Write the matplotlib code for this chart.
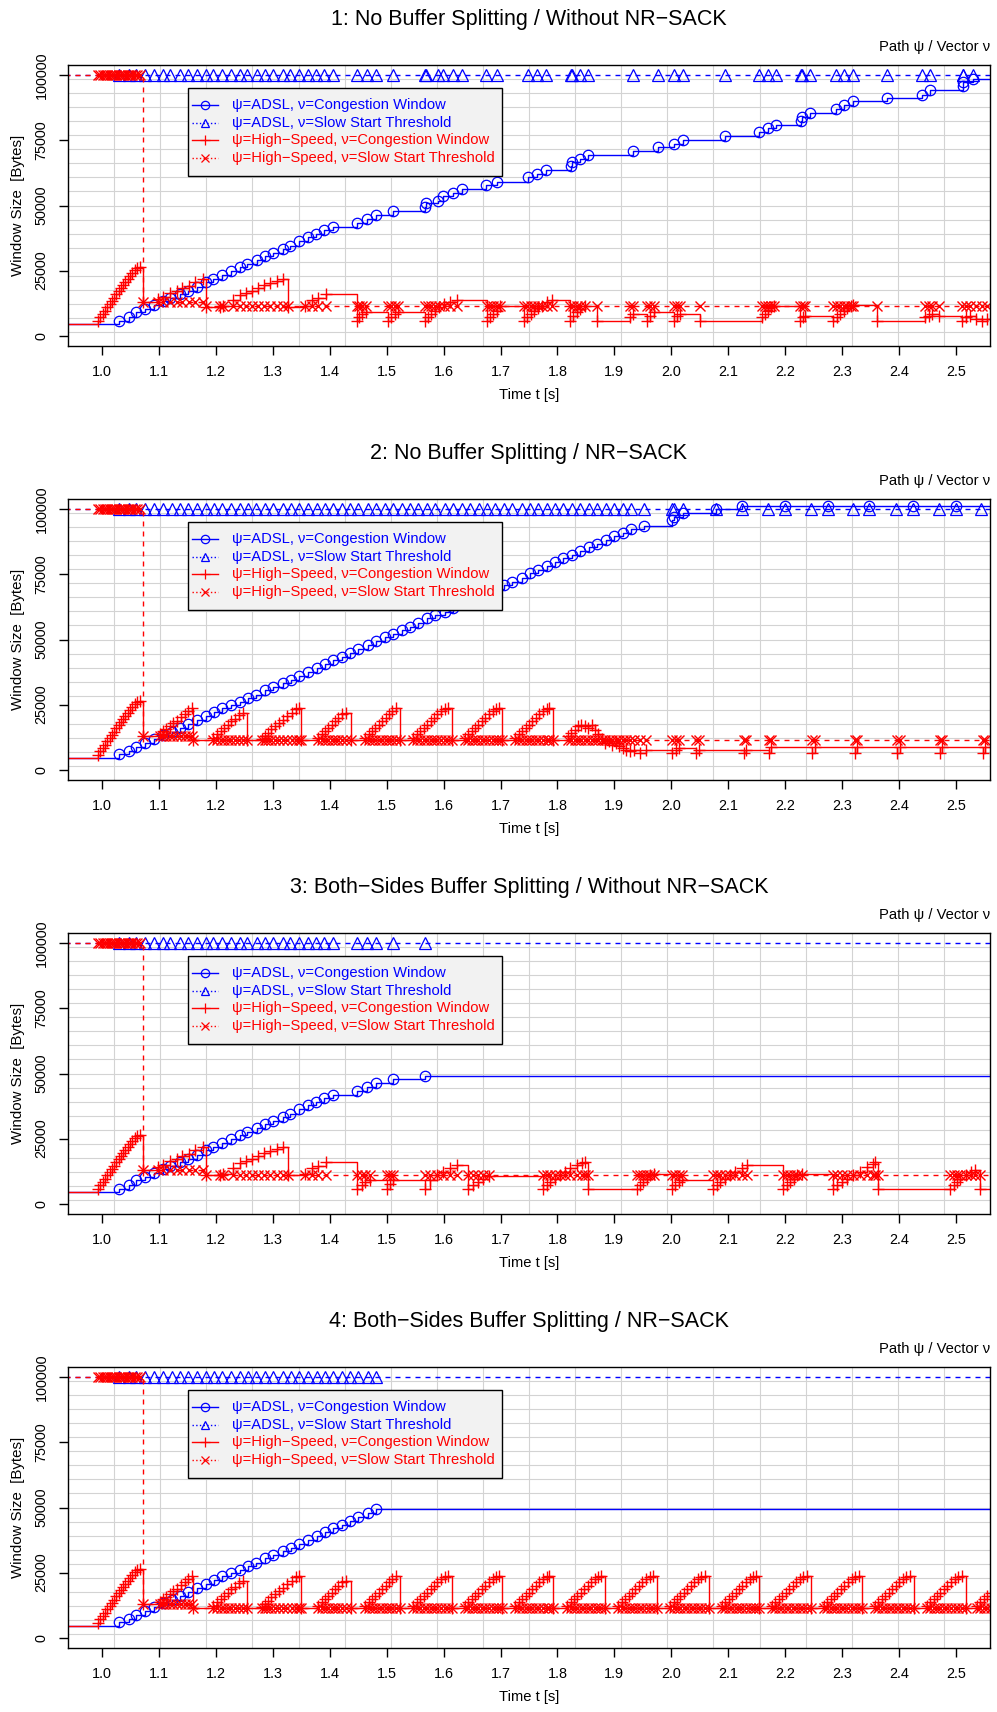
import numpy as np
import matplotlib
matplotlib.use("Agg")
import matplotlib.pyplot as plt
from matplotlib.lines import Line2D
from matplotlib.patches import Rectangle

plt.rcParams['font.family'] = ['Liberation Sans', 'DejaVu Sans']

BLUE = '#0000ff'
RED = '#ff0000'

titles = ["1: No Buffer Splitting / Without NR\u2212SACK",
          "2: No Buffer Splitting / NR\u2212SACK",
          "3: Both\u2212Sides Buffer Splitting / Without NR\u2212SACK",
          "4: Both\u2212Sides Buffer Splitting / NR\u2212SACK"]

legend_labels = ["\u03c8=ADSL, \u03bd=Congestion Window",
                 "\u03c8=ADSL, \u03bd=Slow Start Threshold",
                 "\u03c8=High\u2212Speed, \u03bd=Congestion Window",
                 "\u03c8=High\u2212Speed, \u03bd=Slow Start Threshold"]

x_ticks = [1.0, 1.1, 1.2, 1.3, 1.4, 1.5, 1.6, 1.7, 1.8, 1.9, 2.0, 2.1, 2.2, 2.3, 2.4, 2.5]
y_ticks = [0, 25000, 50000, 75000, 100000]

# ---- ADSL congestion window (time [s], bytes) ----
# panels 1 and 3 start the same way
adsl_13_t = [0.90, 1.030, 1.047, 1.060, 1.075, 1.091, 1.107, 1.119, 1.136, 1.151, 1.166,
             1.183, 1.195, 1.210, 1.227, 1.242, 1.255, 1.272, 1.286, 1.300, 1.317,
             1.330, 1.346, 1.362, 1.376, 1.390, 1.406, 1.447, 1.466, 1.481, 1.511]
adsl_13_v = [4500, 5800, 7300, 9000, 10300, 11900, 13200, 14400, 15800, 17300, 18800,
             20500, 21800, 23100, 24700, 26300, 27600, 29100, 30400, 31700, 33300,
             34600, 36300, 37800, 39100, 40400, 41700, 43200, 44900, 46200, 47700]
adsl_1_tail_t = [1.567, 1.569, 1.590, 1.599, 1.617, 1.632, 1.675, 1.693, 1.749, 1.764,
                 1.780, 1.823, 1.825, 1.840, 1.854, 1.932, 1.976, 2.004, 2.020, 2.095,
                 2.155, 2.170, 2.184, 2.228, 2.229, 2.244, 2.289, 2.304, 2.320, 2.379,
                 2.440, 2.455, 2.512, 2.513, 2.530, 2.70]
adsl_1_tail_v = [49400, 50900, 51900, 53500, 54900, 56200, 57900, 59200, 60900, 62200,
                 63500, 65100, 66700, 67900, 69500, 70900, 72400, 73700, 75300, 76700,
                 78200, 79700, 81000, 82400, 84000, 85500, 86900, 88500, 90000, 91300,
                 92600, 94200, 95800, 97400, 98700, 98700]
adsl_3_tail_t = [1.567, 2.70]
adsl_3_tail_v = [49000, 49000]

# panels 2 and 4 start the same way
adsl_24_t = [0.90, 1.030, 1.047, 1.060, 1.075, 1.091, 1.107, 1.122, 1.136, 1.151, 1.166,
             1.182, 1.197, 1.211, 1.227, 1.242, 1.257, 1.271, 1.286, 1.300, 1.317,
             1.331, 1.346, 1.362, 1.377, 1.391, 1.406, 1.421, 1.435, 1.450, 1.467, 1.482]
adsl_24_v = [4500, 5900, 7200, 8700, 10300, 11900, 13200, 14500, 16000, 17700, 19200,
             20500, 22200, 23500, 24700, 26000, 27600, 28800, 30500, 31800, 33300,
             34600, 35900, 37600, 39200, 40500, 42100, 43300, 44900, 46300, 47800, 49400]
adsl_2_tail_t = [1.497, 1.511, 1.526, 1.541, 1.555, 1.570, 1.585, 1.602,
                 1.617, 1.632, 1.647, 1.662, 1.676, 1.691,
                 1.706, 1.720, 1.738, 1.751, 1.765, 1.782, 1.795, 1.810, 1.825, 1.840,
                 1.856, 1.870, 1.885, 1.900, 1.916, 1.930, 1.952,
                 2.002, 2.004, 2.020, 2.078, 2.125, 2.200, 2.275, 2.348, 2.424, 2.500, 2.70]
adsl_2_tail_v = [50800, 52100, 53600, 54900, 56400, 58100, 59400, 60600,
                 62000, 63500, 65000, 66500, 68000, 69500,
                 70900, 72200, 73700, 75400, 76700, 78200, 79700, 81200, 82400, 84000,
                 85400, 86700, 88200, 89700, 91000, 92600, 93800,
                 95900, 96900, 98500, 100000, 101200, 101200, 101200, 101200, 101200,
                 101200, 101200]
adsl_4_tail_t = [2.70]
adsl_4_tail_v = [49400]
# extra ADSL slow start threshold samples (panel 2)
adsl_2_thr_extra_t = [2.170, 2.246, 2.319, 2.395, 2.470, 2.545]

# ---- High-Speed congestion window (time [s], bytes) ----
hs_start_t = [0.90, 0.993, 0.997, 1.001, 1.005, 1.009, 1.013, 1.017, 1.021, 1.025, 1.029,
              1.033, 1.037, 1.041, 1.045, 1.049, 1.053, 1.057, 1.061, 1.066, 1.071]
hs_start_v = [4500, 5800, 7000, 8300, 9500, 10800, 12000, 13300, 14500, 15800, 17000,
              18200, 19400, 20600, 21800, 23000, 24100, 25100, 26000, 26300, 13000]

hs_13_t = [1.099, 1.107, 1.119, 1.131, 1.140, 1.152, 1.163, 1.178, 1.182,
           1.207, 1.213, 1.230, 1.243, 1.253, 1.263, 1.274, 1.284, 1.295, 1.307, 1.317, 1.327,
           1.357, 1.368, 1.380, 1.393, 1.447]
hs_13_v = [14100, 15000, 16300, 17300, 18200, 19200, 20500, 21800, 11000,
           11000, 11500, 13800, 15700, 16400, 17000, 18300, 19500, 20200, 20900, 21700, 11000,
           11500, 13500, 14500, 16000, 5800]

hs_1_tail_t = [1.452, 1.457, 1.463,
               1.503, 1.508, 1.514, 1.519,
               1.567, 1.572, 1.578, 1.585, 1.592, 1.600, 1.612, 1.624,
               1.676, 1.681, 1.687, 1.693, 1.699,
               1.741, 1.747, 1.753, 1.759, 1.765, 1.773, 1.782, 1.790,
               1.822, 1.828, 1.834, 1.840, 1.849,
               1.869,
               1.928, 1.933,
               1.957, 1.963, 1.969,
               2.004, 2.010, 2.016,
               2.051,
               2.159, 2.165, 2.170, 2.176, 2.180,
               2.226, 2.231, 2.235,
               2.285, 2.291, 2.297, 2.303, 2.309, 2.315, 2.320,
               2.361,
               2.446, 2.452, 2.458, 2.470,
               2.511, 2.517, 2.525, 2.535, 2.546, 2.555,
               2.70]
hs_1_tail_v = [7100, 8300, 9000,
               5800, 7100, 8300, 9000,
               5800, 7100, 8300, 9600, 10900, 12200, 12800, 13500,
               5800, 7100, 8300, 9600, 11200,
               5800, 7100, 8300, 9600, 10600, 11500, 12800, 13500,
               5800, 7700, 9000, 10300, 11200,
               5800,
               7100, 8300,
               5800, 7700, 9000,
               5800, 7700, 8300,
               5800,
               7100, 8300, 9600, 10900, 11500,
               5800, 7100, 7700,
               5800, 7100, 8300, 9600, 10600, 11500, 11800,
               5800,
               7100, 7700, 8300, 7700,
               5800, 7100, 7700, 6500, 5800, 6500,
               6500]

hs_3_tail_t = [1.456, 1.462, 1.470,
               1.500, 1.506, 1.511,
               1.567, 1.576, 1.588, 1.599, 1.611, 1.623,
               1.643, 1.652, 1.661, 1.670, 1.680,
               1.775, 1.781, 1.787, 1.796, 1.805, 1.814, 1.822, 1.834, 1.843, 1.849,
               1.854,
               1.939, 1.945, 1.951, 1.957, 1.963, 1.969,
               2.001, 2.007, 2.013, 2.018,
               2.074, 2.080, 2.086, 2.095, 2.103, 2.112, 2.124, 2.133,
               2.197, 2.203, 2.209, 2.215, 2.221, 2.229,
               2.285, 2.291, 2.300, 2.308, 2.320, 2.332, 2.344, 2.355, 2.358,
               2.364,
               2.490, 2.496, 2.502, 2.508, 2.517, 2.526, 2.534,
               2.543,
               2.70]
hs_3_tail_v = [7100, 8300, 9000,
               5800, 7700, 9000,
               5800, 9000, 10900, 12200, 13500, 14700,
               5800, 7100, 8300, 9600, 10500,
               5800, 7100, 8300, 9600, 10900, 12200, 13500, 14700, 15600, 16000,
               5800,
               5800, 7100, 8300, 9600, 10900, 11500,
               5800, 7100, 8300, 9000,
               5800, 7100, 8300, 9600, 10900, 12200, 13500, 14700,
               5800, 7100, 8300, 9600, 10900, 11500,
               5800, 7100, 8300, 9600, 10900, 12200, 14100, 15400, 16000,
               5800,
               5800, 7100, 8300, 9600, 10900, 12200, 12800,
               5800,
               5800]

# panels 2 and 4: identical saw teeth up to 1.793 s
hs_24_t = [1.101, 1.107, 1.113, 1.119, 1.125, 1.131, 1.139, 1.145, 1.151, 1.157, 1.160,
           1.195, 1.201, 1.208, 1.214, 1.221, 1.227, 1.233, 1.241, 1.247, 1.255,
           1.280, 1.286, 1.292, 1.297, 1.303, 1.311, 1.318, 1.325, 1.333, 1.341, 1.346, 1.350,
           1.380, 1.386, 1.391, 1.397, 1.403, 1.409, 1.415, 1.421, 1.429, 1.438,
           1.462, 1.468, 1.474, 1.480, 1.486, 1.492, 1.498, 1.504, 1.510, 1.517, 1.523,
           1.547, 1.553, 1.559, 1.565, 1.571, 1.577, 1.583, 1.589, 1.596, 1.603, 1.608, 1.614,
           1.637, 1.643, 1.649, 1.655, 1.661, 1.667, 1.673, 1.679, 1.686, 1.692, 1.697, 1.703,
           1.726, 1.732, 1.738, 1.744, 1.750, 1.756, 1.762, 1.768, 1.775, 1.781, 1.786, 1.793]
hs_24_v = [13800, 14700, 15600, 16700, 17900, 18800, 20100, 21400, 22700, 23700, 11500,
           12200, 13500, 14700, 16000, 17300, 18600, 19600, 20800, 21800, 11200,
           11800, 12800, 14100, 15600, 16700, 17900, 19200, 20500, 21800, 23100, 23700, 11200,
           12200, 13500, 14700, 16000, 17300, 18600, 19900, 21200, 21800, 11200,
           12200, 13500, 14700, 16000, 17300, 18600, 19900, 21200, 22400, 23500, 11200,
           12200, 13500, 14700, 16000, 17300, 18600, 19900, 21200, 22400, 23300, 23700, 11200,
           12200, 13500, 14700, 16000, 17300, 18600, 19900, 21200, 22400, 23300, 23700, 11200,
           12200, 13500, 14700, 16000, 17300, 18600, 19900, 21200, 22400, 23300, 23700, 11500]

hs_2_tail_t = [1.818, 1.824, 1.830, 1.836, 1.842, 1.848, 1.854, 1.860, 1.866, 1.872,
               1.878, 1.884, 1.890, 1.896, 1.903, 1.909, 1.915, 1.921, 1.927, 1.935,
               1.945, 1.955,
               2.002, 2.008, 2.014, 2.044, 2.048, 2.127, 2.131, 2.172, 2.176,
               2.248, 2.252, 2.322, 2.326, 2.397, 2.401, 2.472, 2.476, 2.547, 2.551, 2.70]
hs_2_tail_v = [12800, 14100, 15400, 16700, 17300, 16700, 15800, 17000, 15400, 13500,
               11800, 10300, 10900, 9600, 10300, 9000, 8300, 7700, 7100, 7700,
               6500, 7400,
               6200, 7700, 8300, 6200, 7400, 6200, 7400, 6200, 8700,
               6500, 8700, 6500, 8700, 6500, 8700, 6500, 8700, 6500, 8700, 8700]

hs_4_tail_t = [1.817, 1.823, 1.829, 1.835, 1.841, 1.847, 1.853, 1.859, 1.866, 1.872, 1.877, 1.884,
               1.907, 1.913, 1.919, 1.925, 1.931, 1.937, 1.943, 1.949, 1.956, 1.962, 1.968, 1.975,
               1.998, 2.004, 2.010, 2.016, 2.022, 2.028, 2.034, 2.040, 2.047, 2.053, 2.059, 2.066,
               2.089, 2.095, 2.101, 2.107, 2.113, 2.119, 2.125, 2.131, 2.138, 2.144, 2.149, 2.155,
               2.177, 2.183, 2.189, 2.195, 2.201, 2.207, 2.213, 2.219, 2.226, 2.232, 2.239, 2.246,
               2.268, 2.274, 2.280, 2.286, 2.292, 2.298, 2.304, 2.310, 2.317, 2.323, 2.329, 2.335,
               2.358, 2.364, 2.370, 2.376, 2.382, 2.388, 2.394, 2.400, 2.407, 2.413, 2.419, 2.426,
               2.449, 2.455, 2.461, 2.467, 2.473, 2.479, 2.485, 2.491, 2.498, 2.504, 2.510, 2.517,
               2.537, 2.543, 2.549, 2.555, 2.561, 2.70]
hs_4_tail_v = [12200, 13500, 14700, 16000, 17300, 18600, 19900, 21200, 22400, 23300, 23700, 11500,
               12200, 13500, 14700, 16000, 17300, 18600, 19900, 21200, 22400, 23300, 23700, 11500,
               12200, 13500, 14700, 16000, 17300, 18600, 19900, 21200, 22400, 23300, 23700, 11500,
               12200, 13500, 14700, 16000, 17300, 18600, 19900, 21200, 22400, 23300, 23700, 11500,
               12200, 13500, 14700, 16000, 17300, 18600, 19900, 21200, 22400, 23300, 23700, 11500,
               12200, 13500, 14700, 16000, 17300, 18600, 19900, 21200, 22400, 23300, 23700, 11500,
               12200, 13500, 14700, 16000, 17300, 18600, 19900, 21200, 22400, 23300, 23700, 11500,
               12200, 13500, 14700, 16000, 17300, 18600, 19900, 21200, 22400, 23300, 23700, 11500,
               12200, 13500, 14700, 16000, 17300, 17300]

# slow start thresholds: value changes (time [s], bytes), sampled at the cwnd events
adsl_thr_t = [0.90]
adsl_thr_v = [100000]
hs_thr_1_t, hs_thr_1_v = [0.90, 1.071, 1.182], [100000, 13000, 11200]
hs_thr_2_t, hs_thr_2_v = [0.90, 1.071, 1.160], [100000, 13000, 11500]
hs_thr_3_t, hs_thr_3_v = [0.90, 1.071, 1.182], [100000, 13000, 10900]
hs_thr_4_t, hs_thr_4_v = [0.90, 1.071, 1.160], [100000, 13000, 11500]

panels = [
    dict(adsl_t=adsl_13_t + adsl_1_tail_t, adsl_v=adsl_13_v + adsl_1_tail_v, thr_extra=[],
         hs_t=hs_start_t + hs_13_t + hs_1_tail_t, hs_v=hs_start_v + hs_13_v + hs_1_tail_v,
         hs_thr=(hs_thr_1_t, hs_thr_1_v)),
    dict(adsl_t=adsl_24_t + adsl_2_tail_t, adsl_v=adsl_24_v + adsl_2_tail_v,
         thr_extra=adsl_2_thr_extra_t,
         hs_t=hs_start_t + hs_24_t + hs_2_tail_t, hs_v=hs_start_v + hs_24_v + hs_2_tail_v,
         hs_thr=(hs_thr_2_t, hs_thr_2_v)),
    dict(adsl_t=adsl_13_t + adsl_3_tail_t, adsl_v=adsl_13_v + adsl_3_tail_v, thr_extra=[],
         hs_t=hs_start_t + hs_13_t + hs_3_tail_t, hs_v=hs_start_v + hs_13_v + hs_3_tail_v,
         hs_thr=(hs_thr_3_t, hs_thr_3_v)),
    dict(adsl_t=adsl_24_t + adsl_4_tail_t, adsl_v=adsl_24_v + adsl_4_tail_v, thr_extra=[],
         hs_t=hs_start_t + hs_24_t + hs_4_tail_t, hs_v=hs_start_v + hs_24_v + hs_4_tail_v,
         hs_thr=(hs_thr_4_t, hs_thr_4_v)),
]


def sample_steps(times, seg_t, seg_v):
    idx = np.searchsorted(seg_t, times, side='right') - 1
    return np.asarray(seg_v)[idx]


XLIM = (0.94, 2.56)
YLIM = (-4000, 104000)
W, H = 997, 1712

fig = plt.figure(figsize=(W / 100, H / 100), dpi=100)

for k, p in enumerate(panels):
    top = 65 + 434 * k
    bot = 346 + 434 * k
    ax = fig.add_axes([68 / W, 1 - bot / H, 922 / W, 281 / H])
    ax.set_xlim(*XLIM)
    ax.set_ylim(*YLIM)

    # grid, 20 x 20 cells
    for gx in np.linspace(XLIM[0], XLIM[1], 21)[1:-1]:
        ax.axvline(gx, color='#d3d3d3', lw=0.8, zorder=0)
    for gy in np.linspace(YLIM[0], YLIM[1], 21)[1:-1]:
        ax.axhline(gy, color='#d3d3d3', lw=0.8, zorder=0)

    # ADSL
    at = np.array(p['adsl_t'])
    av = np.array(p['adsl_v'])
    ax.step(at, av, where='post', color=BLUE, lw=1.0, zorder=3)
    ax.plot(at, av, ls='none', marker='o', ms=7.5, mfc='none', mec=BLUE, mew=0.9, zorder=3)
    tt = np.sort(np.concatenate([at, p['thr_extra']]))
    tv = sample_steps(tt, adsl_thr_t, adsl_thr_v)
    ax.step(tt, tv, where='post', color=BLUE, lw=1.0, dashes=(3.6, 3.6), zorder=3)
    ax.plot(tt, tv, ls='none', marker='^', ms=8, mfc='none', mec=BLUE, mew=0.9, zorder=3)

    # High-Speed
    ht = np.array(p['hs_t'])
    hv = np.array(p['hs_v'])
    ax.step(ht, hv, where='post', color=RED, lw=1.0, zorder=4)
    ax.plot(ht, hv, ls='none', marker='+', ms=9, mec=RED, mew=1.0, zorder=4)
    sv = sample_steps(ht, *p['hs_thr'])
    ax.step(ht, sv, where='post', color=RED, lw=1.0, dashes=(3.6, 3.6), zorder=4)
    ax.plot(ht, sv, ls='none', marker='x', ms=7, mec=RED, mew=1.0, zorder=4)

    # axes styling
    for s in ax.spines.values():
        s.set_color('black')
        s.set_linewidth(1.0)
        s.set_zorder(6)
    ax.set_xticks(x_ticks)
    ax.set_xticklabels([f"{x:.1f}" for x in x_ticks])
    ax.set_yticks(y_ticks)
    ax.set_yticklabels([str(y) for y in y_ticks], rotation=90, va='center')
    ax.tick_params(direction='out', length=6.5, width=1.0, colors='black',
                   labelsize=10.4, pad=7.5)

    ax.text(0.5, -49 / 281, "Time t [s]", transform=ax.transAxes,
            ha='center', va='center', fontsize=10.6)
    ax.text(-50 / 922, 0.5, "Window Size  [Bytes]", transform=ax.transAxes,
            rotation=90, ha='center', va='center', fontsize=10.8)
    ax.text(1.0, 1 + 18 / 281, "Path \u03c8 / Vector \u03bd", transform=ax.transAxes,
            ha='right', va='center', fontsize=10.6)
    fig.text(529 / W, 1 - (20 + 434 * k) / H, titles[k], ha='center', va='center',
             fontsize=15.5)

    # legend box drawn by hand
    lx0, lx1 = 0.1302, 0.4707
    ly0, ly1 = 0.605, 0.918
    ax.add_patch(Rectangle((lx0, ly0), lx1 - lx0, ly1 - ly0, transform=ax.transAxes,
                           facecolor='#f2f2f2', edgecolor='black', lw=1.0, zorder=10))
    rows = [0.8577, 0.7947, 0.7331, 0.6701]
    styles = [(BLUE, '-', 'o', 7.5), (BLUE, ':', '^', 8), (RED, '-', '+', 9), (RED, ':', 'x', 7)]
    for ry, lab, (c, ls, mk, ms) in zip(rows, legend_labels, styles):
        ln = Line2D([0.1342, 0.1630], [ry, ry], transform=ax.transAxes, color=c, lw=1.0,
                    ls=ls, zorder=11)
        ax.add_artist(ln)
        mkr = Line2D([0.1486], [ry], transform=ax.transAxes, ls='none', marker=mk, ms=ms * 0.8,
                     mfc='none', mec=c, mew=0.9, zorder=11)
        ax.add_artist(mkr)
        ax.text(0.1779, ry, lab, transform=ax.transAxes, color=c, ha='left', va='center',
                fontsize=10.6, zorder=12)

fig.savefig("out.png", dpi=100)
